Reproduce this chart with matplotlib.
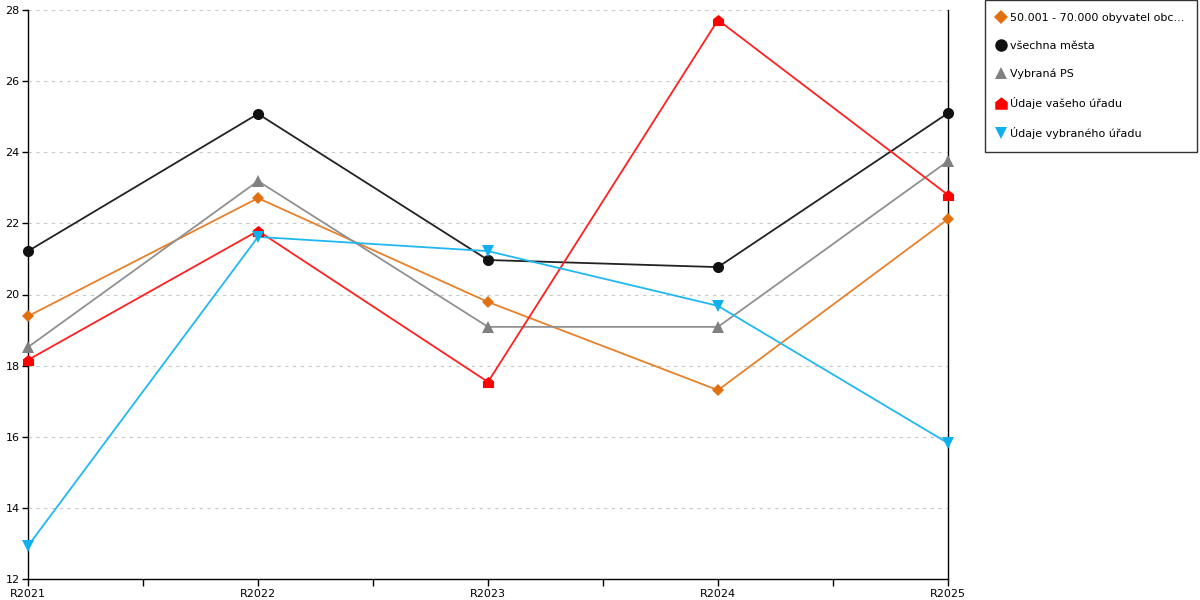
import numpy as np
import matplotlib.pyplot as plt
from matplotlib.lines import Line2D
from matplotlib.path import Path
from matplotlib.ticker import FixedLocator

years = ["R2021", "R2022", "R2023", "R2024", "R2025"]
obyvatel = [19.39, 22.71, 19.79, 17.31, 22.12]
vsechna_mesta = [21.22, 25.08, 20.97, 20.77, 25.10]
vybrana_ps = [18.52, 23.19, 19.09, 19.09, 23.75]
vas_urad = [18.16, 21.79, 17.54, 27.72, 22.80]
vybrany_urad = [12.93, 21.62, 21.22, 19.68, 15.82]

labels = ["50.001 - 70.000 obyvatel obc...", "všechna města", "Vybraná PS",
          "Údaje vašeho úřadu", "Údaje vybraného úřadu"]
colors = ["#e07010", "#111111", "#808080", "#ff0000", "#10b0ee"]
line_colors = ["#e8802a", "#222222", "#909090", "#ff2020", "#20b8f0"]

# house-shaped marker for "Údaje vašeho úřadu"
house = Path([(-1, -1), (1, -1), (1, 0.2), (0, 1), (-1, 0.2), (-1, -1)],
             [Path.MOVETO, Path.LINETO, Path.LINETO, Path.LINETO, Path.LINETO, Path.CLOSEPOLY])
markers = ["D", "o", "^", house, "v"]
msizes = [6, 8, 8, 8, 8]

series = [obyvatel, vsechna_mesta, vybrana_ps, vas_urad, vybrany_urad]

fig = plt.figure(figsize=(12, 6), dpi=100)
ax = fig.add_axes([28 / 1200, 1 - 579 / 600, 920 / 1200, 569 / 600])

x = np.arange(len(years))
for ii in range(len(series)):
    ax.plot(x, series[ii], color=line_colors[ii], linewidth=1.3, zorder=3, clip_on=False)
    ax.plot(x, series[ii], linestyle="none", marker=markers[ii], markersize=msizes[ii],
            color=colors[ii], markeredgewidth=0, zorder=4, clip_on=False)

ax.set_xlim(0, 4)
ax.set_ylim(12, 28)
ax.set_yticks(np.arange(12, 29, 2))
ax.set_xticks(x)
ax.set_xticklabels(years)
ax.xaxis.set_minor_locator(FixedLocator([0.5, 1.5, 2.5, 3.5]))
ax.tick_params(axis="x", which="both", direction="out", length=5, width=1, labelsize=8, pad=2)
ax.tick_params(axis="y", direction="out", length=4, width=1, labelsize=8, pad=2)

ax.grid(axis="y", linestyle=(0, (3, 4)), color="#c8c8c8", linewidth=0.8)
ax.spines["top"].set_visible(False)
for s in ["left", "right", "bottom"]:
    ax.spines[s].set_color("black")
    ax.spines[s].set_linewidth(1)
ax.set_axisbelow(True)

handles = [Line2D([], [], linestyle="none", marker=markers[ii], markersize=msizes[ii] + 1,
                  color=colors[ii], markeredgewidth=0) for ii in range(len(series))]
leg = fig.legend(handles, labels, loc="upper left", bbox_to_anchor=(985 / 1200, 1.0),
                 frameon=True, fancybox=False, edgecolor="black", fontsize=8.0,
                 handlelength=0.5, handletextpad=0.6, labelspacing=1.62,
                 borderpad=1.15, borderaxespad=0)
leg.get_frame().set_linewidth(1)

fig.savefig("out.png", dpi=100)
plt.close()
